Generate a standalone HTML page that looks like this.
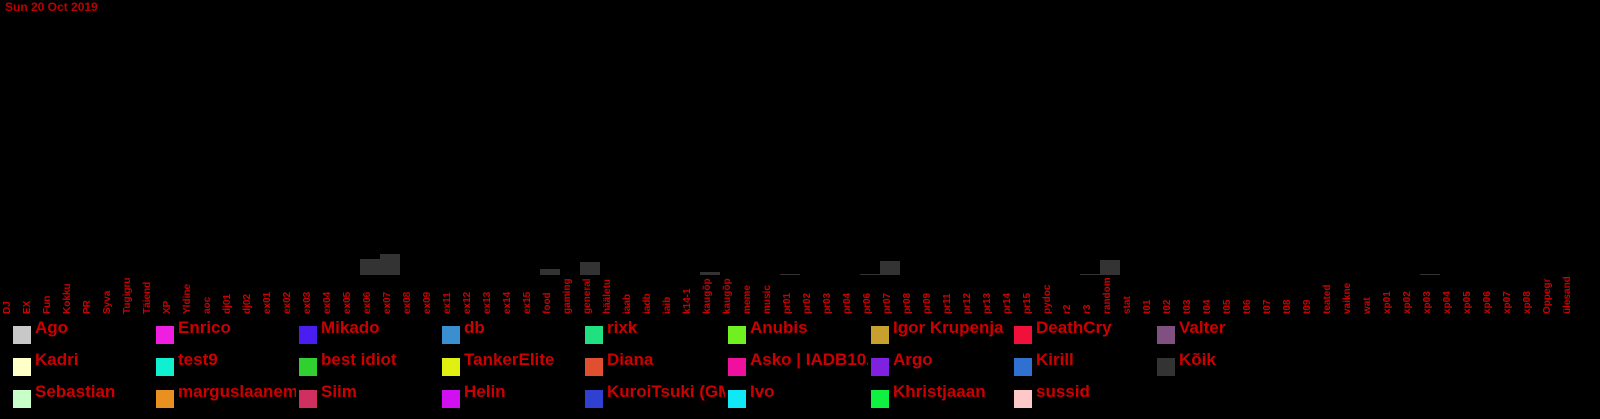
<!DOCTYPE html>
<html><head><meta charset="utf-8">
<style>
html,body{margin:0;padding:0;background:#000;width:1600px;height:419px;overflow:hidden;}
svg{display:block;font-family:"Liberation Sans",sans-serif;}
</style></head>
<body>
<svg id="chart" width="1600" height="419">
<text x="5" y="11" font-size="12" font-weight="bold" fill="#c00000">Sun 20 Oct 2019</text>
<g id="bars"></g>
<g id="xlabels"></g>
<g id="legend"></g>
</svg>
<script>
const categories = ["DJ","EX","Fun","Kokku","PR","Syva","Tugigru","Täiend","XP","Yldine","aoc","dj01","dj02","ex01","ex02","ex03","ex04","ex05","ex06","ex07","ex08","ex09","ex11","ex12","ex13","ex14","ex15","food","gaming","general","hääletu","iaab","iadb","iaib","k14-1","kaugõp","kaugõp","meme","music","pr01","pr02","pr03","pr04","pr06","pr07","pr08","pr09","pr11","pr12","pr13","pr14","pr15","pydoc","r2","r3","random","stat","t01","t02","t03","t04","t05","t06","t07","t08","t09","teated","vaikne","wat","xp01","xp02","xp03","xp04","xp05","xp06","xp07","xp08","Oppegr","ülesand"];
const barCats = ["ex06","ex07","food","general","kaugõp","pr01","pr06","pr07","r3","random","xp03"];
const barIdx = [18,19,27,29,35,39,43,44,54,55,71];
const barValues = [16,21,6,13,3,1,1,14,1,15,1];
const legendNames = ["Ago","Kadri","Sebastian","Enrico","test9","marguslaanem","Mikado","best idiot","Siim","db","TankerElite","Helin","rixk","Diana","KuroiTsuki (GM","Anubis","Asko | IADB10A","Ivo","Igor Krupenja","Argo","Khristjaaan","DeathCry","Kirill","sussid","Valter","Kõik"];
const legendColors = ["#c8c8c8","#ffffc8","#c8ffc8","#f01ee0","#10f0d0","#e89020","#4a1ef0","#30d030","#d03060","#3a8fd0","#e0f010","#d010f0","#20e080","#e05030","#3040d0","#70f020","#f010a0","#10e8f8","#c8a030","#8020e0","#10f040","#f0103a","#3070d0","#ffc8c8","#805080","#333333"];

const NS="http://www.w3.org/2000/svg";
const slotW=20, x0=0, baseY=275, pxPerUnit=1;
const xScale=i=>x0+i*slotW;
const yScale=v=>baseY-v*pxPerUnit;

const bars=document.getElementById('bars');
barValues.forEach((v,k)=>{
  const r=document.createElementNS(NS,'rect');
  const y=yScale(v);
  r.setAttribute('x',xScale(barIdx[k]));
  r.setAttribute('y',y);
  r.setAttribute('width',slotW);
  r.setAttribute('height',baseY-y);
  r.setAttribute('fill','#333333');
  
  
  bars.appendChild(r);
});

const xl=document.getElementById('xlabels');
categories.forEach((c,i)=>{
  const t=document.createElementNS(NS,'text');
  t.setAttribute('transform','translate('+(xScale(i)+10)+',314) rotate(-90)');
  t.setAttribute('font-size','10');
  t.setAttribute('font-weight','bold');
  t.setAttribute('fill','#cc0000');
  t.textContent=c;
  
  
  xl.appendChild(t);
});

const lg=document.getElementById('legend');
legendNames.forEach((n,i)=>{
  const col=Math.floor(i/3), row=i%3;
  const x=13+col*143, y=326+row*32;
  const g=document.createElementNS(NS,'g');
  
  
  const cp=document.createElementNS(NS,'clipPath');
  cp.setAttribute('id','cl'+i);
  const cr=document.createElementNS(NS,'rect');
  cr.setAttribute('x',x);cr.setAttribute('y',y-14);cr.setAttribute('width',140);cr.setAttribute('height',40);
  cp.appendChild(cr);g.appendChild(cp);
  const s=document.createElementNS(NS,'rect');
  s.setAttribute('x',x);s.setAttribute('y',y);s.setAttribute('width',18);s.setAttribute('height',18);
  s.setAttribute('fill',legendColors[i]);
  
  
  g.appendChild(s);
  const t=document.createElementNS(NS,'text');
  t.setAttribute('x',x+22);t.setAttribute('y',y+7);
  t.setAttribute('font-size','17');t.setAttribute('font-weight','bold');
  t.setAttribute('fill','#cc0000');
  t.setAttribute('clip-path','url(#cl'+i+')');
  t.textContent=n;
  
  
  g.appendChild(t);
  lg.appendChild(g);
});
</script>
</body></html>
